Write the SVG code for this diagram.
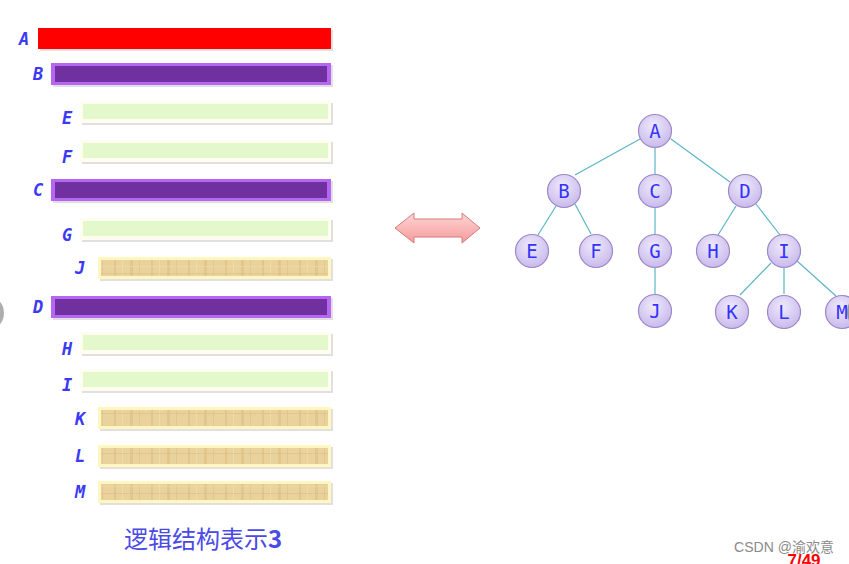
<svg xmlns="http://www.w3.org/2000/svg" width="849" height="564" viewBox="0 0 849 564">
<style>
.lbl{font-family:"DejaVu Sans Mono","Liberation Mono",monospace;font-style:italic;font-weight:bold;font-size:17px;fill:#3a3af5;text-anchor:middle}
.nt{font-family:"DejaVu Sans Mono","Liberation Mono",monospace;font-size:19px;fill:#3333ff;text-anchor:middle}
.nc{fill:url(#ng);stroke:#9d87c9;stroke-width:1.2}
.edge{stroke:#5bb6c8;stroke-width:1.2;fill:none}
.pur{fill:#b566f2}
.purin{fill:#7030a0}
.grn{fill:#fffdf0}
.grnin{fill:#e3f8cb}
.tan{fill:#fff6c0}
.tanin{fill:url(#tp)}
.sh{fill:#000;opacity:0.12}
</style>
<defs>
<radialGradient id="ng" cx="45%" cy="35%" r="70%">
<stop offset="0" stop-color="#efeafc"/>
<stop offset="1" stop-color="#c6b6ea"/>
</radialGradient>
<linearGradient id="ag" x1="0" y1="0" x2="0" y2="1">
<stop offset="0" stop-color="#ffd6d6"/>
<stop offset="1" stop-color="#f59a9a"/>
</linearGradient>
<pattern id="tp" width="37" height="20" patternUnits="userSpaceOnUse">
<rect width="37" height="20" fill="#e9d29c"/>
<rect x="3" y="0" width="2" height="20" fill="#dcbf86" opacity="0.6"/>
<rect x="11" y="0" width="1" height="20" fill="#f2dfae" opacity="0.7"/>
<rect x="19" y="0" width="3" height="20" fill="#d9ba80" opacity="0.5"/>
<rect x="28" y="0" width="1" height="20" fill="#dcc08a" opacity="0.6"/>
<rect x="0" y="6" width="37" height="1" fill="#f0dba8" opacity="0.7"/>
<rect x="0" y="13" width="37" height="1" fill="#d8bb82" opacity="0.5"/>
</pattern>
</defs>
<rect width="849" height="564" fill="#ffffff"/>

<circle cx="-14" cy="313" r="18" fill="#9a9a9a" opacity="0.8"/>

<g id="bars">
<g id="barA"><rect class="sh" x="40" y="30" width="293" height="21"/><rect x="38" y="28" width="293" height="21" fill="#ff0000"/><text class="lbl" x="24" y="45">A</text></g>
<g id="barB"><rect class="sh" x="53" y="65" width="280" height="22"/><rect class="pur" x="51" y="63" width="280" height="22"/><rect class="purin" x="55" y="66" width="272" height="16"/><text class="lbl" x="38" y="80">B</text></g>
<g id="barE"><rect class="sh" x="82" y="103" width="251" height="22"/><rect class="grn" x="80" y="101" width="251" height="22"/><rect class="grnin" x="83" y="104" width="245" height="15"/><text class="lbl" x="67" y="124">E</text></g>
<g id="barF"><rect class="sh" x="82" y="142" width="251" height="22"/><rect class="grn" x="80" y="140" width="251" height="22"/><rect class="grnin" x="83" y="143" width="245" height="15"/><text class="lbl" x="67" y="163">F</text></g>
<g id="barC"><rect class="sh" x="53" y="181" width="280" height="22"/><rect class="pur" x="51" y="179" width="280" height="22"/><rect class="purin" x="55" y="182" width="272" height="16"/><text class="lbl" x="38" y="196">C</text></g>
<g id="barG"><rect class="sh" x="82" y="220" width="251" height="22"/><rect class="grn" x="80" y="218" width="251" height="22"/><rect class="grnin" x="83" y="221" width="245" height="15"/><text class="lbl" x="67" y="241">G</text></g>
<g id="barJ"><rect class="sh" x="100" y="259" width="233" height="22"/><rect class="tan" x="98" y="257" width="233" height="22"/><rect class="tanin" x="101" y="260" width="227" height="16"/><text class="lbl" x="80" y="274">J</text></g>
<g id="barD"><rect class="sh" x="53" y="298" width="280" height="22"/><rect class="pur" x="51" y="296" width="280" height="22"/><rect class="purin" x="55" y="299" width="272" height="16"/><text class="lbl" x="38" y="313">D</text></g>
<g id="barH"><rect class="sh" x="82" y="334" width="251" height="22"/><rect class="grn" x="80" y="332" width="251" height="22"/><rect class="grnin" x="83" y="335" width="245" height="15"/><text class="lbl" x="67" y="355">H</text></g>
<g id="barI"><rect class="sh" x="82" y="371" width="251" height="22"/><rect class="grn" x="80" y="369" width="251" height="22"/><rect class="grnin" x="83" y="372" width="245" height="15"/><text class="lbl" x="67" y="391">I</text></g>
<g id="barK"><rect class="sh" x="100" y="409" width="233" height="22"/><rect class="tan" x="98" y="407" width="233" height="22"/><rect class="tanin" x="101" y="410" width="227" height="16"/><text class="lbl" x="80" y="425">K</text></g>
<g id="barL"><rect class="sh" x="100" y="447" width="233" height="22"/><rect class="tan" x="98" y="445" width="233" height="22"/><rect class="tanin" x="101" y="448" width="227" height="16"/><text class="lbl" x="80" y="462">L</text></g>
<g id="barM"><rect class="sh" x="100" y="483" width="233" height="22"/><rect class="tan" x="98" y="481" width="233" height="22"/><rect class="tanin" x="101" y="484" width="227" height="16"/><text class="lbl" x="80" y="498">M</text></g>
</g>

<text x="203" y="548" font-family="'Noto Sans CJK SC',sans-serif" font-size="24" fill="#4a4ae6" text-anchor="middle">逻辑结构表示<tspan font-weight="bold">3</tspan></text>

<g id="arrow">
<path d="M395,228 L414,213 L414,219 L462,219 L462,213 L480,228 L462,243 L462,237 L414,237 L414,243 Z" fill="url(#ag)" stroke="#d77b7b" stroke-width="1"/>
</g>

<g id="connectors">
<line class="edge" x1="640" y1="139" x2="575" y2="175"/>
<line class="edge" x1="655" y1="148" x2="655" y2="174"/>
<line class="edge" x1="671" y1="139" x2="730" y2="182"/>
<line class="edge" x1="556" y1="206" x2="538" y2="235"/>
<line class="edge" x1="575" y1="204" x2="591" y2="234"/>
<line class="edge" x1="655" y1="208" x2="655" y2="234"/>
<line class="edge" x1="736" y1="206" x2="718" y2="235"/>
<line class="edge" x1="756" y1="204" x2="780" y2="235"/>
<line class="edge" x1="655" y1="268" x2="655" y2="294"/>
<line class="edge" x1="771" y1="263" x2="740" y2="295"/>
<line class="edge" x1="784" y1="268" x2="784" y2="294"/>
<line class="edge" x1="797" y1="261" x2="836" y2="296"/>
</g>

<g id="nA"><circle class="nc" cx="655" cy="131" r="16.5"/><text class="nt" x="655" y="138">A</text></g>
<g id="nB"><circle class="nc" cx="564" cy="191" r="16.5"/><text class="nt" x="564" y="198">B</text></g>
<g id="nC"><circle class="nc" cx="655" cy="191" r="16.5"/><text class="nt" x="655" y="198">C</text></g>
<g id="nD"><circle class="nc" cx="745" cy="191" r="16.5"/><text class="nt" x="745" y="198">D</text></g>
<g id="nE"><circle class="nc" cx="532" cy="251" r="16.5"/><text class="nt" x="532" y="258">E</text></g>
<g id="nF"><circle class="nc" cx="596" cy="251" r="16.5"/><text class="nt" x="596" y="258">F</text></g>
<g id="nG"><circle class="nc" cx="655" cy="251" r="16.5"/><text class="nt" x="655" y="258">G</text></g>
<g id="nH"><circle class="nc" cx="713" cy="251" r="16.5"/><text class="nt" x="713" y="258">H</text></g>
<g id="nI"><circle class="nc" cx="784" cy="251" r="16.5"/><text class="nt" x="784" y="258">I</text></g>
<g id="nJ"><circle class="nc" cx="655" cy="311" r="16.5"/><text class="nt" x="655" y="318">J</text></g>
<g id="nK"><circle class="nc" cx="732" cy="312" r="16.5"/><text class="nt" x="732" y="319">K</text></g>
<g id="nL"><circle class="nc" cx="784" cy="312" r="16.5"/><text class="nt" x="784" y="319">L</text></g>
<g id="nM"><circle class="nc" cx="842" cy="312" r="16.5"/><text class="nt" x="842" y="319">M</text></g>

<circle cx="866" cy="312" r="19" fill="#8a8a8a" opacity="0.85"/>

<text x="784" y="552" font-family="'Liberation Sans','Noto Sans CJK SC',sans-serif" font-size="14" fill="#8a8a8a" text-anchor="middle">CSDN @渝欢意</text>
<text x="804" y="566" font-family="'Liberation Sans',sans-serif" font-size="17" font-weight="bold" fill="#ff0000" text-anchor="middle">7/49</text>
</svg>
